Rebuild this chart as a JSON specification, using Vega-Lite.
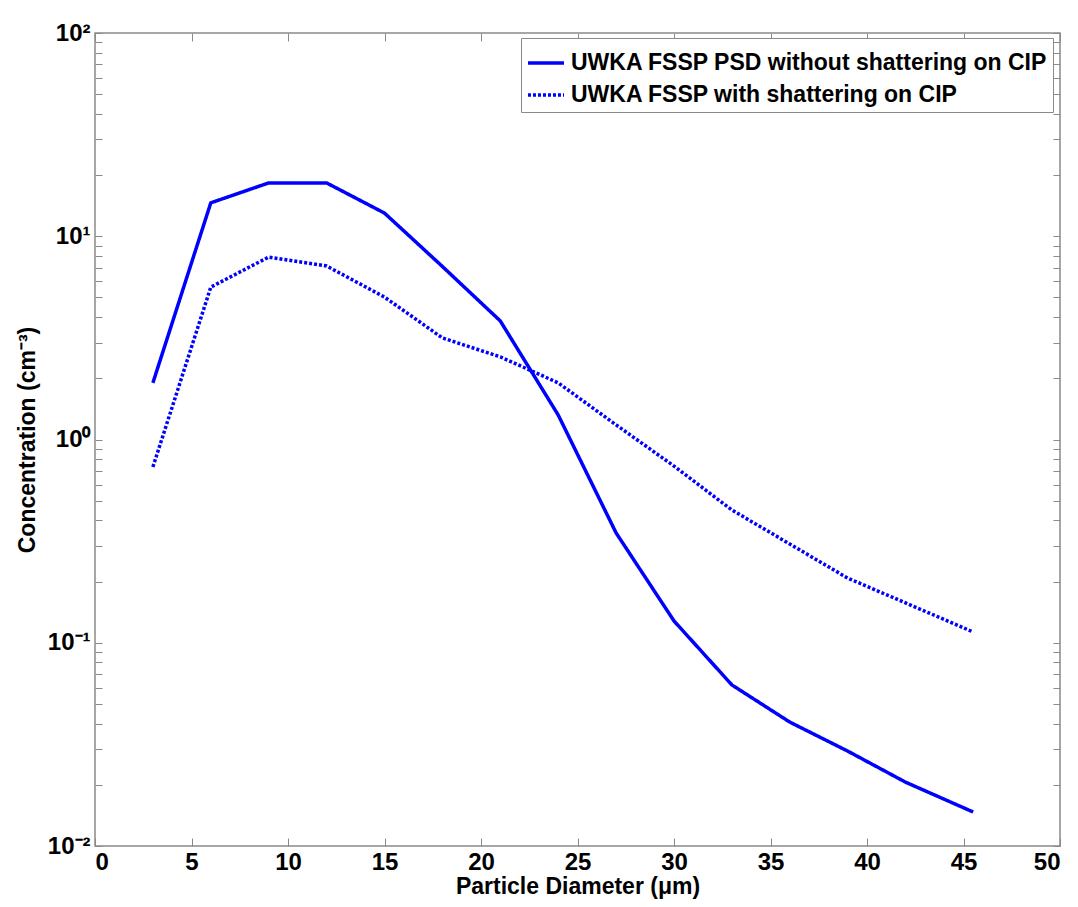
{
  "$schema": "https://vega.github.io/schema/vega-lite/v6.json",
  "width": 965,
  "height": 813,
  "autosize": {"type": "none"},
  "padding": {"left": 95, "top": 33, "right": 18, "bottom": 61},
  "background": "white",
  "config": {
    "view": {"stroke": "#8a8a8a", "strokeWidth": 1.5},
    "font": "Liberation Sans",
    "axis": {"grid": false, "domainColor": "#8a8a8a", "tickColor": "#8a8a8a", "labelFont": "Liberation Sans", "labelFontWeight": "bold", "labelFontSize": 24, "labelColor": "black", "titleFont": "Liberation Sans", "titleFontWeight": "bold", "titleFontSize": 23, "titleColor": "black"}
  },
  "data": {"values": [
    {"d": 3, "c": 1.9, "s": "UWKA FSSP PSD without shattering on CIP"},
    {"d": 6, "c": 14.6, "s": "UWKA FSSP PSD without shattering on CIP"},
    {"d": 9, "c": 18.3, "s": "UWKA FSSP PSD without shattering on CIP"},
    {"d": 12, "c": 18.3, "s": "UWKA FSSP PSD without shattering on CIP"},
    {"d": 15, "c": 13.0, "s": "UWKA FSSP PSD without shattering on CIP"},
    {"d": 18, "c": 7.1, "s": "UWKA FSSP PSD without shattering on CIP"},
    {"d": 21, "c": 3.83, "s": "UWKA FSSP PSD without shattering on CIP"},
    {"d": 24, "c": 1.32, "s": "UWKA FSSP PSD without shattering on CIP"},
    {"d": 27, "c": 0.347, "s": "UWKA FSSP PSD without shattering on CIP"},
    {"d": 30, "c": 0.128, "s": "UWKA FSSP PSD without shattering on CIP"},
    {"d": 33, "c": 0.062, "s": "UWKA FSSP PSD without shattering on CIP"},
    {"d": 36, "c": 0.0407, "s": "UWKA FSSP PSD without shattering on CIP"},
    {"d": 39, "c": 0.0293, "s": "UWKA FSSP PSD without shattering on CIP"},
    {"d": 42, "c": 0.0206, "s": "UWKA FSSP PSD without shattering on CIP"},
    {"d": 45.5, "c": 0.0147, "s": "UWKA FSSP PSD without shattering on CIP"},
    {"d": 3, "c": 0.733, "s": "UWKA FSSP with shattering on CIP"},
    {"d": 6, "c": 5.62, "s": "UWKA FSSP with shattering on CIP"},
    {"d": 9, "c": 7.9, "s": "UWKA FSSP with shattering on CIP"},
    {"d": 12, "c": 7.14, "s": "UWKA FSSP with shattering on CIP"},
    {"d": 15, "c": 5.02, "s": "UWKA FSSP with shattering on CIP"},
    {"d": 18, "c": 3.16, "s": "UWKA FSSP with shattering on CIP"},
    {"d": 21, "c": 2.55, "s": "UWKA FSSP with shattering on CIP"},
    {"d": 24, "c": 1.9, "s": "UWKA FSSP with shattering on CIP"},
    {"d": 27, "c": 1.18, "s": "UWKA FSSP with shattering on CIP"},
    {"d": 30, "c": 0.74, "s": "UWKA FSSP with shattering on CIP"},
    {"d": 33, "c": 0.45, "s": "UWKA FSSP with shattering on CIP"},
    {"d": 36, "c": 0.306, "s": "UWKA FSSP with shattering on CIP"},
    {"d": 39, "c": 0.208, "s": "UWKA FSSP with shattering on CIP"},
    {"d": 42, "c": 0.157, "s": "UWKA FSSP with shattering on CIP"},
    {"d": 45.5, "c": 0.113, "s": "UWKA FSSP with shattering on CIP"}
  ]},
  "resolve": {"axis": {"x": "independent", "y": "independent"}},
  "layer": [
    {
      "mark": {"type": "line", "strokeWidth": 3.5, "strokeCap": "butt", "clip": true},
      "encoding": {
        "x": {"field": "d", "type": "quantitative", "scale": {"domain": [0, 50], "nice": false},
          "axis": {"title": "Particle Diameter (μm)", "values": [0,5,10,15,20,25,30,35,40,45,50], "tickSize": -8, "labelPadding": 12, "titlePadding": 1, "domain": false}},
        "y": {"field": "c", "type": "quantitative", "scale": {"type": "log", "domain": [0.01, 100], "nice": false},
          "axis": {"title": "Concentration (cm⁻³)", "values": [0.01,0.02,0.03,0.04,0.05,0.06,0.07,0.08,0.09,0.1,0.2,0.3,0.4,0.5,0.6,0.7,0.8,0.9,1,2,3,4,5,6,7,8,9,10,20,30,40,50,60,70,80,90,100],
            "labelExpr": "datum.value==100?'10²':datum.value==10?'10¹':datum.value==1?'10⁰':datum.value==0.1?'10⁻¹':datum.value==0.01?'10⁻²':''",
            "tickSize": -7, "labelPadding": 12, "titlePadding": 8, "domain": false}},
        "color": {"field": "s", "type": "nominal", "scale": {"range": ["#0000ff", "#0000ff"]},
          "legend": {"title": null, "orient": "none", "legendX": 426, "legendY": 5, "strokeColor": "#8a8a8a", "fillColor": "white", "padding": 5, "labelFont": "Liberation Sans", "labelFontWeight": "bold", "labelFontSize": 23, "labelLimit": 0, "labelColor": "black", "symbolType": "stroke", "symbolSize": 1300, "symbolStrokeWidth": 3.5, "rowPadding": 0, "labelOffset": 5}},
        "strokeDash": {"field": "s", "type": "nominal", "scale": {"range": [[1, 0], [3, 2]]}}
      }
    },
    {
      "mark": {"type": "line", "opacity": 0},
      "encoding": {
        "x": {"field": "d", "type": "quantitative", "scale": {"domain": [0, 50], "nice": false},
          "axis": {"orient": "top", "title": null, "labels": false, "values": [0,5,10,15,20,25,30,35,40,45,50], "tickSize": -8, "domain": false}},
        "y": {"field": "c", "type": "quantitative", "scale": {"type": "log", "domain": [0.01, 100], "nice": false},
          "axis": {"orient": "right", "title": null, "labels": false, "values": [0.01,0.02,0.03,0.04,0.05,0.06,0.07,0.08,0.09,0.1,0.2,0.3,0.4,0.5,0.6,0.7,0.8,0.9,1,2,3,4,5,6,7,8,9,10,20,30,40,50,60,70,80,90,100], "tickSize": -7, "domain": false}},
        "detail": {"field": "s"}
      }
    }
  ]
}
